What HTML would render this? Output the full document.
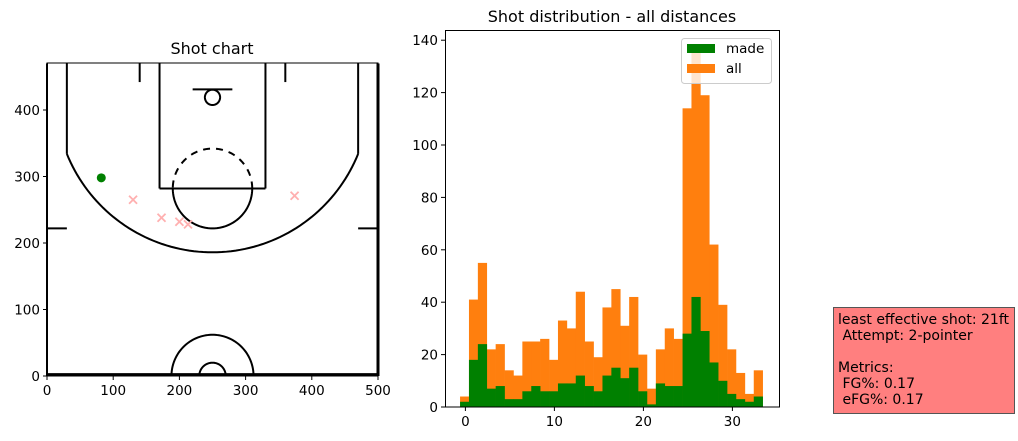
<!DOCTYPE html>
<html><head><meta charset="utf-8"><style>
html,body{margin:0;padding:0;background:#fff;}
svg{display:block;font-family:"DejaVu Sans","Liberation Sans",sans-serif;}
tspan{white-space:pre;}
</style></head><body>
<svg id="fig" width="1018" height="441" viewBox="0 0 1018 441" xmlns="http://www.w3.org/2000/svg">
<g id="court"></g>
<g id="hist"></g>
<g>
<rect x="833.5" y="307.5" width="181" height="106" fill="#ff7f7f" stroke="#555" stroke-width="1"/>
<text font-size="14" fill="#000" xml:space="preserve">
<tspan x="838" y="324">least effective shot: 21ft</tspan>
<tspan x="838" y="340"> Attempt: 2-pointer</tspan>
<tspan x="838" y="372">Metrics:</tspan>
<tspan x="838" y="388"> FG%: 0.17</tspan>
<tspan x="838" y="404"> eFG%: 0.17</tspan>
</text>
</g>
</svg>
<script>
const NS="http://www.w3.org/2000/svg";
function mk(tag,attrs,parent){const e=document.createElementNS(NS,tag);for(const k in attrs)e.setAttribute(k,attrs[k]);parent.appendChild(e);return e;}

// ---------- Shot chart data ----------
const madeX=[82];
const madeY=[298];
const missX=[130,173,200,213,374];
const missY=[265,238,232,228,271];
const courtXTicks=[0,100,200,300,400,500];
const courtYTicks=[0,100,200,300,400];

const cx=v=>47+v*0.662;
const cy=v=>376-v*0.665;
const C=document.getElementById('court');
const lineAttrs={fill:'none',stroke:'#000','stroke-width':2};
function cl(x1,y1,x2,y2,w){const l=mk('line',{x1:cx(x1),y1:cy(y1),x2:cx(x2),y2:cy(y2),stroke:'#000','stroke-width':w||2},C);return l;}
function arc(xc,yc,r,a1,a2,dash){
  let d='';const n=80;
  for(let i=0;i<=n;i++){const a=(a1+(a2-a1)*i/n)*Math.PI/180;const x=cx(xc+r*Math.cos(a)),y=cy(yc+r*Math.sin(a));d+=(i?'L':'M')+x.toFixed(2)+' '+y.toFixed(2);}
  const p=mk('path',Object.assign({d:d},lineAttrs),C);if(dash)p.setAttribute('stroke-dasharray','7 6');
  return p;
}
const t1=mk('text',{x:212,y:54,'text-anchor':'middle','font-size':16},C);t1.textContent='Shot chart';

cl(0,470,0,0,2);cl(500,470,500,0,3);cl(0,2,500,2,3);
cl(170,470,170,282);cl(330,470,330,282);cl(170,282,330,282);
cl(220,431,280,431);
arc(250,419,11.5,0,360);
arc(250,282,60,0,180,true);
arc(250,282,60,180,360);
cl(30,470,30,334);cl(470,470,470,334);
const ang=Math.asin((334-423.5)/237.5)*180/Math.PI;
arc(250,423.5,237.5,180-ang,360+ang);
cl(140,470,140,442);cl(360,470,360,442);
cl(0,222,30,222);cl(470,222,500,222);
arc(250,0,62,0,180);arc(250,0,20,0,180);
const sp=mk('rect',{x:47,y:63,width:331,height:313,fill:'none',stroke:'#000','stroke-width':1},C);

courtXTicks.forEach(v=>{mk('line',{x1:cx(v),y1:376,x2:cx(v),y2:380,stroke:'#000'},C);
  const t=mk('text',{x:cx(v),y:395,'text-anchor':'middle','font-size':13.5},C);t.textContent=v;
  });
courtYTicks.forEach(v=>{mk('line',{x1:43,y1:cy(v),x2:47,y2:cy(v),stroke:'#000'},C);
  const t=mk('text',{x:40,y:cy(v)+5,'text-anchor':'end','font-size':13.5},C);t.textContent=v;
  });
madeX.forEach((x,i)=>{const c=mk('circle',{cx:cx(x),cy:cy(madeY[i]),r:4.5,fill:'#008000'},C);
  });
missX.forEach((x,i)=>{const px=cx(x),py=cy(missY[i]);
  const p=mk('path',{d:`M${px-4} ${py-4}L${px+4} ${py+4}M${px-4} ${py+4}L${px+4} ${py-4}`,stroke:'#ffb0b0','stroke-width':1.8,fill:'none'},C);
  });

// ---------- Histogram data ----------
const binStart=-0.6;
const binWidth=1.0;
const allCounts=[4,41,55,22,24,14,12,25,25,26,18,33,30,44,25,19,38,45,31,42,20,7,22,30,26,114,136,119,62,39,22,13,5,14];
const madeCounts=[2,18,24,7,8,3,3,6,8,6,6,9,9,12,8,6,12,15,11,15,6,1,9,8,8,28,42,29,17,10,5,3,2,4];
const histXTicks=[0,10,20,30];
const histYTicks=[0,20,40,60,80,100,120,140];

const hx=v=>465.4+v*8.9;
const hy=v=>407-v*2.62;
const H=document.getElementById('hist');
const t2=mk('text',{x:612,y:22,'text-anchor':'middle','font-size':16},H);t2.textContent='Shot distribution - all distances';

allCounts.forEach((v,i)=>{const x0=hx(binStart+i*binWidth),x1=hx(binStart+(i+1)*binWidth);
  const r=mk('rect',{x:x0,y:hy(v),width:x1-x0+0.3,height:hy(0)-hy(v),fill:'#ff7f0e'},H);
  });
madeCounts.forEach((v,i)=>{const x0=hx(binStart+i*binWidth),x1=hx(binStart+(i+1)*binWidth);
  const r=mk('rect',{x:x0,y:hy(v),width:x1-x0+0.3,height:hy(0)-hy(v),fill:'#008000'},H);
  });
const hf=mk('rect',{x:445.5,y:30.5,width:334,height:376.5,fill:'none',stroke:'#000','stroke-width':1},H);

histXTicks.forEach(v=>{mk('line',{x1:hx(v),y1:407,x2:hx(v),y2:411,stroke:'#000'},H);
  const t=mk('text',{x:hx(v),y:426,'text-anchor':'middle','font-size':13.5},H);t.textContent=v;
  });
histYTicks.forEach(v=>{mk('line',{x1:441,y1:hy(v),x2:445,y2:hy(v),stroke:'#000'},H);
  const t=mk('text',{x:438,y:hy(v)+5,'text-anchor':'end','font-size':13.5},H);t.textContent=v;
  });
const L=mk('g',{},H);


mk('rect',{x:681.5,y:38.5,width:90,height:45,rx:3,fill:'#fff','fill-opacity':0.8,stroke:'#ccc'},L);
mk('rect',{x:687,y:44,width:28,height:9,fill:'#008000'},L);
mk('rect',{x:687,y:64,width:28,height:9,fill:'#ff7f0e'},L);
const lt1=mk('text',{x:726,y:53,'font-size':13.5},L);lt1.textContent='made';

const lt2=mk('text',{x:726,y:73,'font-size':13.5},L);lt2.textContent='all';

</script>
</body></html>
